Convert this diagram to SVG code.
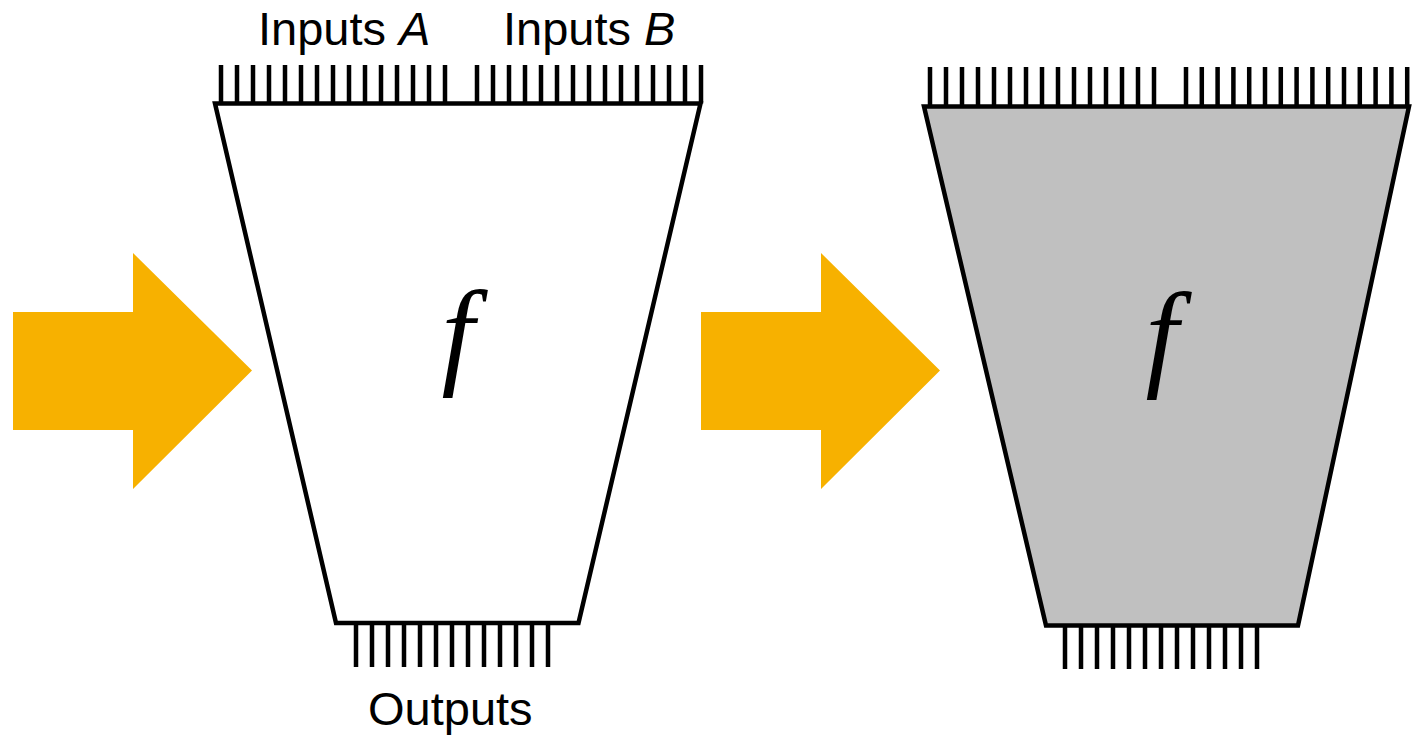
<svg xmlns="http://www.w3.org/2000/svg" width="1421" height="735" viewBox="0 0 1421 735">
<style>
.arrow{fill:#F7B100;stroke:none}
.trap{stroke:#000;stroke-width:4.5;stroke-linejoin:miter}
.tick{stroke:#000;stroke-width:4.5;fill:none}
.lbl{font-family:"Liberation Sans",Arial,sans-serif;font-size:47px;fill:#000}
.fx{font-family:"Liberation Serif","Times New Roman",serif;font-style:italic;font-size:118px;fill:#000}
</style>
<rect width="1421" height="735" fill="#fff"/>
<g id="connectors">
  <polygon id="arrow1" class="arrow" points="13,312 133,312 133,253 252,370.5 133,489 133,430 13,430"/>
  <polygon id="arrow2" class="arrow" points="701,312 821,312 821,253 940,370.5 821,489 821,430 701,430"/>
</g>
<g id="node-f1">
  <polygon class="trap" fill="#fff" points="215,103.5 700.5,103.5 578.5,623 336,623"/>
  <path class="tick" d="M221,65V103.5M237,65V103.5M253,65V103.5M269,65V103.5M285,65V103.5M301,65V103.5M317,65V103.5M333,65V103.5M349,65V103.5M365,65V103.5M381,65V103.5M397,65V103.5M413,65V103.5M429,65V103.5M445,65V103.5"/>
  <path class="tick" d="M477,65V103.5M493,65V103.5M509,65V103.5M525,65V103.5M541,65V103.5M557,65V103.5M573,65V103.5M589,65V103.5M605,65V103.5M621,65V103.5M637,65V103.5M653,65V103.5M669,65V103.5M685,65V103.5M701,65V103.5"/>
  <path class="tick" d="M356,623V667M372,623V667M388,623V667M404,623V667M420,623V667M436,623V667M452,623V667M468,623V667M484,623V667M500,623V667M516,623V667M532,623V667M548,623V667"/>
  <text class="lbl" x="258" y="45">Inputs <tspan font-style="italic">A</tspan></text>
  <text class="lbl" x="503" y="45">Inputs <tspan font-style="italic">B</tspan></text>
  <text class="lbl" x="368" y="725">Outputs</text>
  <text class="fx" x="458" y="373" text-anchor="middle">f</text>
</g>
<g id="node-f2">
  <polygon class="trap" fill="#C0C0C0" points="924,106.5 1409,106.5 1298,625.5 1046,625.5"/>
  <path class="tick" d="M930,67V106.5M946,67V106.5M962,67V106.5M978,67V106.5M994,67V106.5M1010,67V106.5M1026,67V106.5M1042,67V106.5M1058,67V106.5M1074,67V106.5M1090,67V106.5M1106,67V106.5M1122,67V106.5M1138,67V106.5M1154,67V106.5"/>
  <path class="tick" d="M1186,67V106.5M1201.8,67V106.5M1217.6,67V106.5M1233.4,67V106.5M1249.2,67V106.5M1265,67V106.5M1280.8,67V106.5M1296.6,67V106.5M1312.4,67V106.5M1328.2,67V106.5M1344,67V106.5M1359.8,67V106.5M1375.6,67V106.5M1391.4,67V106.5M1407.2,67V106.5"/>
  <path class="tick" d="M1065,625.5V669M1081,625.5V669M1097,625.5V669M1113,625.5V669M1129,625.5V669M1145,625.5V669M1161,625.5V669M1177,625.5V669M1193,625.5V669M1209,625.5V669M1225,625.5V669M1241,625.5V669M1257,625.5V669"/>
  <text class="fx" x="1162" y="375" text-anchor="middle">f</text>
</g>
</svg>
